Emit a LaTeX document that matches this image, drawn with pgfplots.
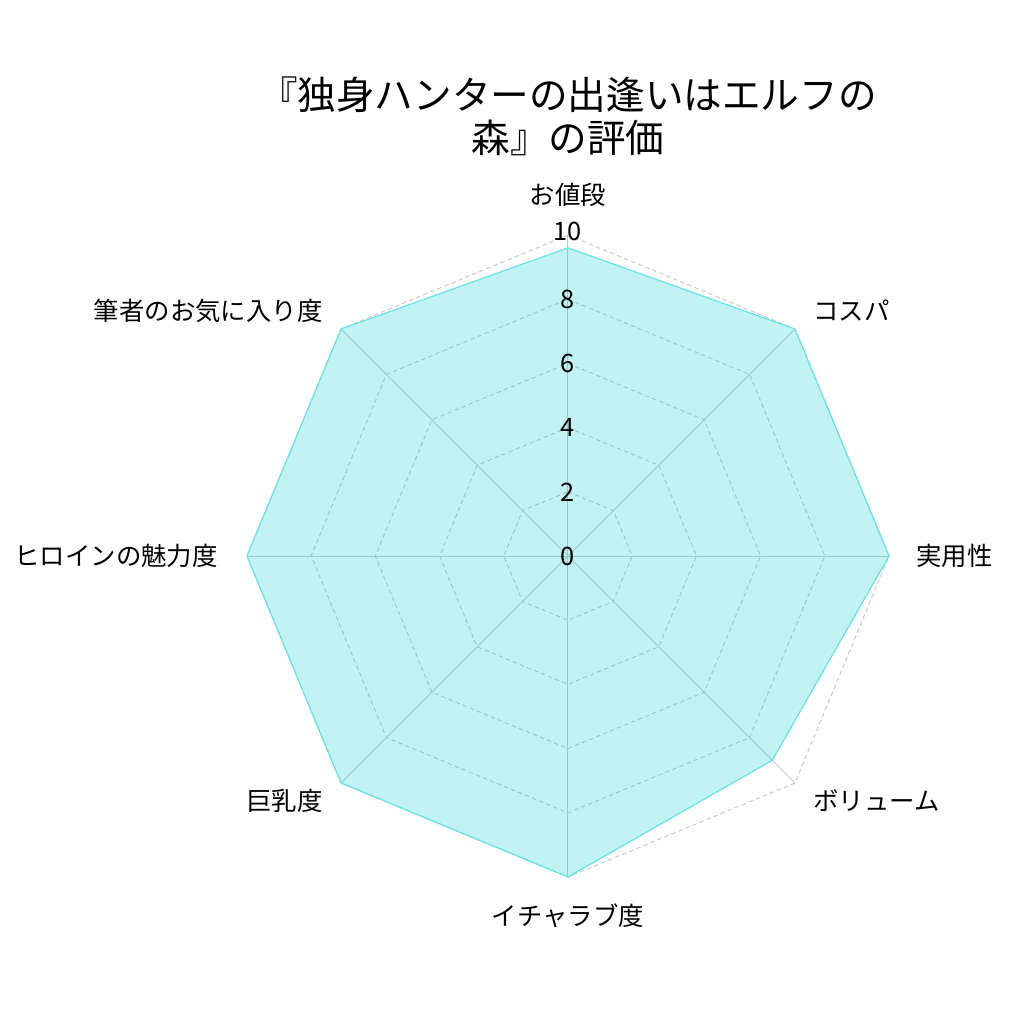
\documentclass[border=0pt]{standalone}
\usepackage{fontspec}
\setmainfont{Noto Sans CJK JP}
\usepackage{pgfplots}
\pgfplotsset{compat=1.18}
\usepgfplotslibrary{polar}

\definecolor{turq}{RGB}{0,206,209}
\definecolor{gridc}{RGB}{200,200,200}
\tikzset{lbl/.style={inner sep=0pt, font=\fontsize{12.7pt}{15pt}\selectfont},
  ring/.style={gridc, dash pattern=on 2.2pt off 1.6pt, line width=0.5pt}}

\begin{document}
\begin{tikzpicture}
\begin{polaraxis}[
    width=321pt, height=321pt, scale only axis,
    ymin=0, ymax=10,
    xtick=\empty, ytick=\empty,
    axis line style={draw=none},
    clip=false,
  ]
  % rings
  \addplot[ring] coordinates {(90,2)(45,2)(0,2)(-45,2)(-90,2)(-135,2)(180,2)(135,2)(90,2)};
  \addplot[ring] coordinates {(90,4)(45,4)(0,4)(-45,4)(-90,4)(-135,4)(180,4)(135,4)(90,4)};
  \addplot[ring] coordinates {(90,6)(45,6)(0,6)(-45,6)(-90,6)(-135,6)(180,6)(135,6)(90,6)};
  \addplot[ring] coordinates {(90,8)(45,8)(0,8)(-45,8)(-90,8)(-135,8)(180,8)(135,8)(90,8)};
  \addplot[ring] coordinates {(90,10)(45,10)(0,10)(-45,10)(-90,10)(-135,10)(180,10)(135,10)(90,10)};
  % spokes
  \addplot[gridc, line width=0.5pt] coordinates {(90,10)(270,10)};
  \addplot[gridc, line width=0.5pt] coordinates {(45,10)(225,10)};
  \addplot[gridc, line width=0.5pt] coordinates {(0,10)(180,10)};
  \addplot[gridc, line width=0.5pt] coordinates {(135,10)(315,10)};
  % data
  \addplot[draw=turq!60, line width=0.6pt, fill=turq, fill opacity=0.24] coordinates {
    (90,9.6) (45,10) (0,10) (-45,9) (-90,10) (-135,10) (180,10) (135,10) (90,9.6)
  };

  \coordinate (C) at (axis cs:0,0);

  % radial tick labels
  \node[lbl] at (axis cs:90,0) {0};
  \node[lbl] at (axis cs:90,2) {2};
  \node[lbl] at (axis cs:90,4) {4};
  \node[lbl] at (axis cs:90,6) {6};
  \node[lbl] at (axis cs:90,8) {8};
  \node[lbl] at (axis cs:90,10.1) {10};

  % category labels
  \node[lbl] at (axis cs:90,11.25) {お値段};
  \node[lbl, anchor=west] at (axis cs:45,10.8) {コスパ};
  \node[lbl, anchor=west] at (axis cs:0,10.84) {実用性};
  \node[lbl, anchor=west] at (axis cs:-45,10.8) {ボリューム};
  \node[lbl] at (axis cs:-90,11.2) {イチャラブ度};
  \node[lbl, anchor=east] at (axis cs:-135,10.8) {巨乳度};
  \node[lbl, anchor=east] at (axis cs:180,10.9) {ヒロインの魅力度};
  \node[lbl, anchor=east] at (axis cs:135,10.8) {筆者のお気に入り度};

  \node[inner sep=0pt, align=center, font=\fontsize{19.3pt}{21.5pt}\selectfont]
    at (axis cs:90,13.7) {『独身ハンターの出逢いはエルフの\\森』の評価};
\end{polaraxis}
\pgfresetboundingbox
\path[use as bounding box] (C) +(-284pt,278pt) rectangle +(228pt,-234pt);
\end{tikzpicture}
\end{document}
